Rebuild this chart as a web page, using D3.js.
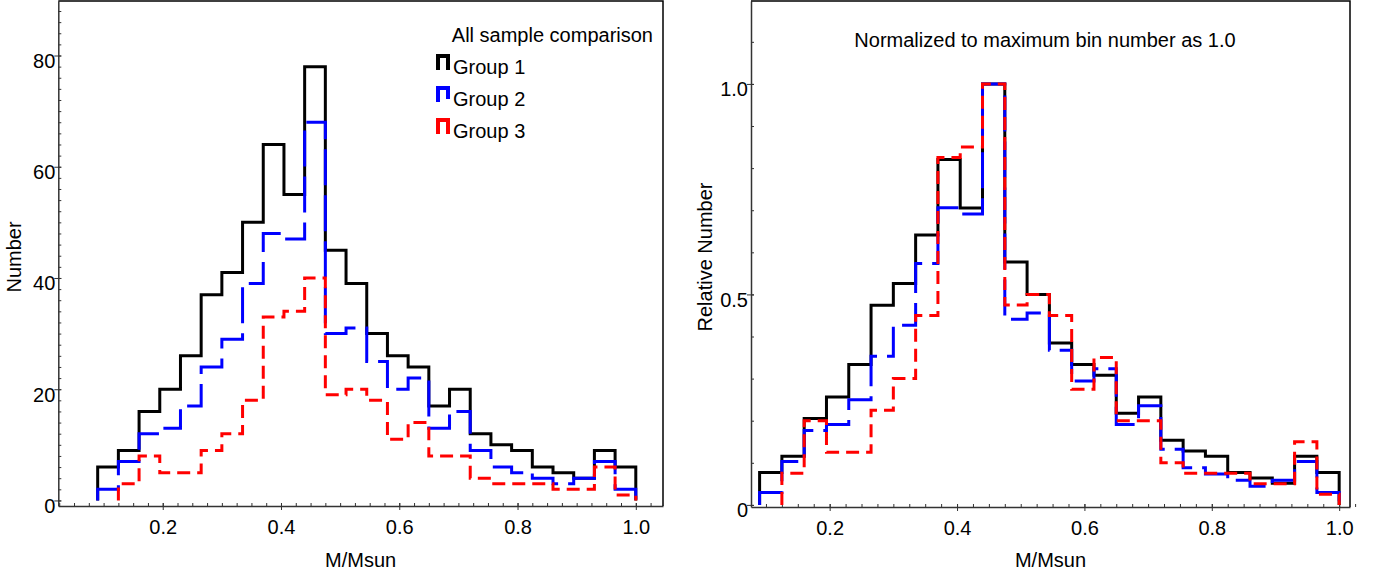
<!DOCTYPE html>
<html>
<head>
<meta charset="utf-8">
<script src="https://cdnjs.cloudflare.com/ajax/libs/d3/7.8.5/d3.min.js"></script>
<style>
  body { margin: 0; background: #fff; }
  text { font-family: "Liberation Sans", Arial, sans-serif; }
</style>
</head>
<body>
<script>
// histogram bin edges (26 bins, M/Msun)
var binEdges = [0.09, 0.125, 0.16, 0.195, 0.23, 0.265, 0.30, 0.335, 0.37, 0.405, 0.44, 0.475, 0.51,
  0.545, 0.58, 0.615, 0.65, 0.685, 0.72, 0.755, 0.79, 0.825, 0.86, 0.895, 0.93, 0.965, 1.0];

// counts per bin
var group1 = [6, 9, 16, 20, 26, 37, 41, 50, 64, 55, 78, 45, 39, 30, 26, 24, 17, 20, 12, 10, 9, 6, 5, 4, 9, 6];
var group2 = [2, 7, 12, 13, 17, 24, 29, 39, 48, 47, 68, 30, 31, 25, 20, 22, 13, 16, 9, 6, 5, 4, 3, 4, 7, 2];
var group3 = [0, 3, 8, 5, 5, 9, 12, 18, 33, 34, 40, 19, 20, 18, 11, 14, 8, 8, 4, 3, 3, 3, 2, 2, 6, 1];

var groupNames = ["Group 1", "Group 2", "Group 3"];
var groupColors = ["#000000", "#0000ff", "#ff0000"];
var groupDashes = [null, "36,10", "13,7"];

var xTicks = [0.2, 0.4, 0.6, 0.8, 1.0];
var countTicks = [0, 20, 40, 60, 80];
var relTicks = [0, 0.5, 1.0];

var fontSize = 20;
var svgOptions = { width: 1378, height: 575 };

var svg = d3.select("body")
  .append("svg")
  .attr("width", svgOptions.width)
  .attr("height", svgOptions.height);

// Normalize a series to its largest bin
var normalize = function (arr) {
  var m = d3.max(arr);
  return arr.map(function (v) { return v / m; });
};

// Turn bin counts into points for a step line (drops to 0 at both ends)
var stepPoints = function (arr) {
  var first = 0;
  while (arr[first] === 0) first++;
  var pts = [[binEdges[first], 0]];
  for (var i = first; i < arr.length; i++) {
    pts.push([binEdges[i], arr[i]]);
  }
  pts.push([binEdges[arr.length], 0]);
  return pts;
};

var drawAxes = function (x, y, opts) {
  var x0 = x.range()[0], x1 = x.range()[1];
  var yb = y.range()[0], yt = y.range()[1];

  // minor ticks, inward
  svg.append("g")
    .attr("transform", "translate(0," + yb + ")")
    .call(d3.axisBottom(x).tickValues(opts.xMinor).tickSize(-3).tickSizeOuter(0).tickFormat(""))
    .call(function (g) { g.select(".domain").remove(); g.selectAll("line").attr("stroke", "#333"); });
  svg.append("g")
    .attr("transform", "translate(" + x0 + ",0)")
    .call(d3.axisLeft(y).tickValues(opts.yMinor).tickSize(-3).tickSizeOuter(0).tickFormat(""))
    .call(function (g) { g.select(".domain").remove(); g.selectAll("line").attr("stroke", "#333"); });

  // major ticks and labels
  var xa = svg.append("g")
    .attr("transform", "translate(0," + yb + ")")
    .call(d3.axisBottom(x).tickValues(xTicks).tickSize(4).tickSizeOuter(0).tickFormat(d3.format(".1f")));
  xa.selectAll(".tick line").attr("y1", -3).attr("stroke", "#333");
  xa.selectAll(".tick text").attr("y", 28).attr("dy", null)
    .attr("font-size", fontSize).attr("font-family", "Liberation Sans, Arial, sans-serif").attr("fill", "#000");
  xa.select(".domain").attr("stroke", "#333").attr("stroke-width", 1.5);

  var ya = svg.append("g")
    .attr("transform", "translate(" + x0 + ",0)")
    .call(d3.axisLeft(y).tickValues(opts.yMajor).tickSize(4).tickSizeOuter(0).tickFormat(opts.yFormat));
  ya.selectAll(".tick line").attr("x1", 3).attr("stroke", "#333");
  ya.selectAll(".tick text").attr("x", -3).attr("dy", null).attr("y", 12)
    .attr("font-size", fontSize).attr("font-family", "Liberation Sans, Arial, sans-serif").attr("fill", "#000");
  ya.select(".domain").attr("stroke", "#333").attr("stroke-width", 1.5);

  // top and right frame
  svg.append("path")
    .attr("d", "M" + x0 + "," + yt + "H" + x1 + "V" + yb)
    .attr("fill", "none")
    .attr("stroke", "#000")
    .attr("stroke-width", 1.5);

  // axis titles
  svg.append("text")
    .attr("x", (x0 + x1) / 2)
    .attr("y", 567)
    .attr("text-anchor", "middle")
    .attr("font-size", fontSize)
    .text("M/Msun");
  svg.append("text")
    .attr("transform", "translate(" + opts.yTitleX + "," + 257 + ") rotate(-90)")
    .attr("text-anchor", "middle")
    .attr("font-size", fontSize)
    .text(opts.yTitle);
};

var drawSeries = function (x, y, series) {
  var line = d3.line()
    .x(function (d) { return x(d[0]); })
    .y(function (d) { return y(d[1]); })
    .curve(d3.curveStepAfter);

  series.forEach(function (arr, i) {
    svg.append("path")
      .datum(stepPoints(arr))
      .attr("d", line)
      .attr("fill", "none")
      .attr("stroke", groupColors[i])
      .attr("stroke-width", 3)
      .attr("stroke-dasharray", groupDashes[i]);
  });
};

var xMinor = d3.range(0.025, 1.05, 0.025);

/******* left panel: counts ********/
var xLeft = d3.scaleLinear().domain([0.0234, 1.046]).range([58.3, 663]);
var yLeft = d3.scaleLinear().domain([-1.0, 89.8]).range([506, 1]);

drawAxes(xLeft, yLeft, {
  xMinor: xMinor,
  yMajor: countTicks,
  yMinor: d3.range(0, 90, 2),
  yFormat: d3.format("d"),
  yTitle: "Number",
  yTitleX: 21
});
drawSeries(xLeft, yLeft, [group1, group2, group3]);

// legend
svg.append("text")
  .attr("x", 653)
  .attr("y", 42)
  .attr("text-anchor", "end")
  .attr("font-size", fontSize)
  .text("All sample comparison");

groupNames.forEach(function (name, i) {
  var top = 56 + i * 32;
  svg.append("path")
    .attr("d", "M438," + (top + 14) + "V" + top + "H448V" + (top + 14))
    .attr("fill", "none")
    .attr("stroke", groupColors[i])
    .attr("stroke-width", 4)
    .attr("stroke-dasharray", i === 1 ? "35,10" : null);
  svg.append("text")
    .attr("x", 453)
    .attr("y", 74 + i * 32)
    .attr("font-size", fontSize)
    .text(name);
});

/******* right panel: normalized to max bin ********/
var xRight = d3.scaleLinear().domain([0.0765, 1.017]).range([751, 1350]);
var yRight = d3.scaleLinear().domain([-0.005, 1.197]).range([507, 1]);

drawAxes(xRight, yRight, {
  xMinor: xMinor.filter(function (v) { return v > 0.08; }),
  yMajor: relTicks,
  yMinor: d3.range(0, 1.15, 0.1),
  yFormat: function (d) { return d === 0 ? "0" : d3.format(".1f")(d); },
  yTitle: "Relative Number",
  yTitleX: 712
});
drawSeries(xRight, yRight, [normalize(group1), normalize(group2), normalize(group3)]);

svg.append("text")
  .attr("x", 1045)
  .attr("y", 47)
  .attr("text-anchor", "middle")
  .attr("font-size", fontSize)
  .text("Normalized to maximum bin number as 1.0");
</script>
</body>
</html>
